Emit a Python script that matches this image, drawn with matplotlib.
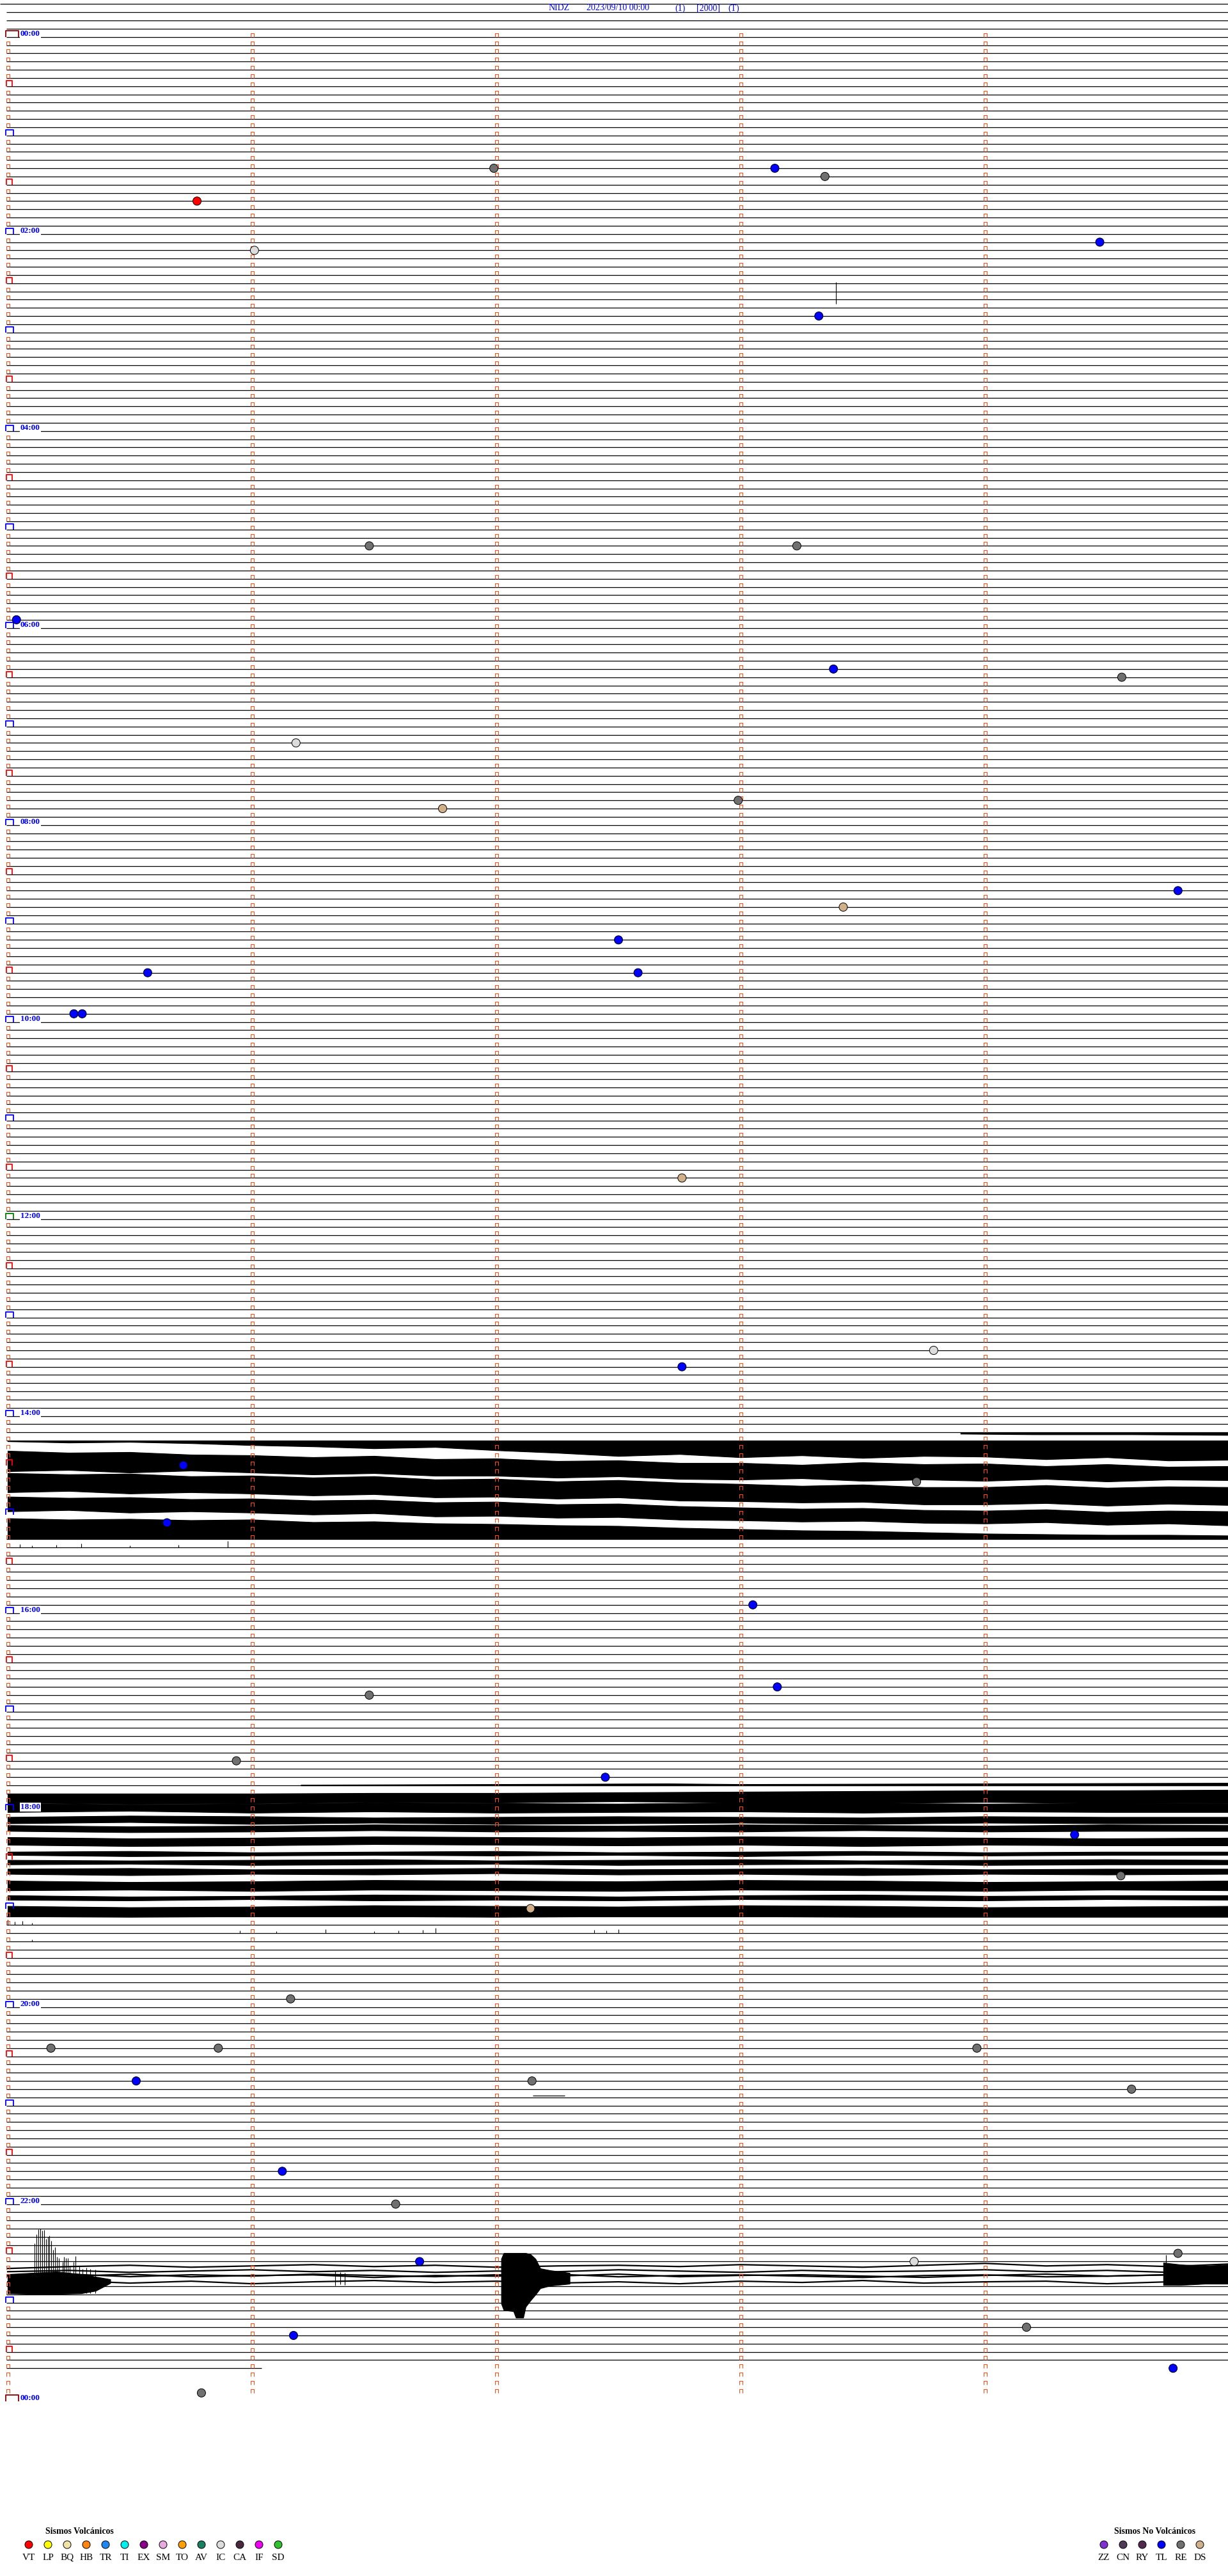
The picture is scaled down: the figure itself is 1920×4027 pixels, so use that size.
import matplotlib
matplotlib.use('Agg')
import matplotlib.pyplot as plt
from matplotlib.collections import LineCollection

# ---- layout of the helicorder page (pixels) ----
W, H, DPI = 1920, 4027, 100
X0, MIN_PX = 12.0, 382.0      # x pixel of minute 0, pixels per minute
Y0, LINE_PX = 57.7, 12.833    # y pixel of the 00:00 trace, pixels per 5-min trace

SERIF = ['Liberation Serif', 'DejaVu Serif']

# ---- data ----
title_parts = ['NIDZ', '2023/09/10 00:00', '(1)', '[2000]', '(T)']
title_x = [858, 917, 1055, 1089, 1138]

hour_labels = ['00:00', '02:00', '04:00', '06:00', '08:00', '10:00', '12:00',
               '14:00', '16:00', '18:00', '20:00', '22:00', '00:00']

first_trace, last_trace, last_trace_end = -4, 284, 1.04
hidden_traces = list(range(172, 183)) + list(range(215, 229)) + [272, 273]

# events: trace number (5 min each), minute inside the trace, type
ev_trace = [20, 16, 16, 17, 26, 25, 34, 62, 62, 71, 77, 78, 86, 94, 93, 106, 104,
            110, 114, 114, 119, 119, 139, 160, 162, 174, 181, 176, 191, 201, 202,
            210, 212, 219, 224, 228, 239, 245, 245, 245, 249, 249, 250, 260, 264,
            270, 271, 271, 279, 280, 284, 287]
ev_minute = [0.775, 1.99, 3.14, 3.345, 1.01, 4.47, 3.32, 1.48, 3.23, 0.036, 3.38,
             4.56, 1.18, 1.78, 2.99, 3.42, 4.79, 2.50, 0.573, 2.58, 0.271, 0.305,
             2.76, 3.79, 2.76, 0.719, 0.652, 3.72, 3.05, 3.15, 1.48, 0.936, 2.446,
             4.367, 4.556, 2.14, 1.158, 0.177, 0.862, 3.967, 0.526, 2.146, 4.60,
             1.124, 1.588, 4.79, 3.71, 1.686, 4.17, 1.17, 4.77, 0.793]
ev_type = ['VT', 'RE', 'TL', 'RE', 'IC', 'TL', 'TL', 'RE', 'RE', 'TL', 'TL', 'RE',
           'IC', 'DS', 'RE', 'DS', 'TL', 'TL', 'TL', 'TL', 'TL', 'TL', 'DS', 'IC',
           'TL', 'TL', 'TL', 'RE', 'TL', 'TL', 'RE', 'RE', 'TL', 'TL', 'RE', 'DS',
           'RE', 'RE', 'RE', 'RE', 'TL', 'RE', 'RE', 'TL', 'RE', 'RE', 'IC', 'TL',
           'RE', 'TL', 'TL', 'RE']

volcanic_types = ['VT', 'LP', 'BQ', 'HB', 'TR', 'TI', 'EX', 'SM', 'TO', 'AV', 'IC', 'CA', 'IF', 'SD']
other_types = ['ZZ', 'CN', 'RY', 'TL', 'RE', 'DS']
type_colors = {'VT': '#ff0000', 'LP': '#ffff00', 'BQ': '#efe3a6', 'HB': '#ff8410',
               'TR': '#1e88f0', 'TI': '#00f0f0', 'EX': '#880088', 'SM': '#e8a8e0',
               'TO': '#ffa000', 'AV': '#188060', 'IC': '#dcdcdc', 'CA': '#4a2840',
               'IF': '#f000f0', 'SD': '#30c030', 'ZZ': '#8030d0', 'CN': '#503858',
               'RY': '#502850', 'TL': '#0000ff', 'RE': '#707070', 'DS': '#d0b088'}

# noisy stretches: (trace, minutes, upper edge, lower edge) in px from the trace line
q_minutes = [0, 0.25, 0.5, 0.75, 1, 1.25, 1.5, 1.75, 2, 2.25, 2.5, 2.75, 3, 3.25,
             3.5, 3.75, 4, 4.25, 4.5, 4.75, 5]
h_minutes = [0, 0.5, 1, 1.5, 2, 2.5, 3, 3.5, 4, 4.5, 5]
noise_1415 = [
    (170, [3.9, 4.2, 4.6, 5.0], [0, 0, 0, 0], [2, 3, 3, 4]),
    (171, q_minutes, [0] * 21,
     [1, 3, 2, 4, 7, 9, 12, 10, 15, 19, 24, 21, 26, 23, 27, 24, 25, 29, 26, 31, 30]),
    (172, q_minutes,
     [3, 6, 5, 9, 10, 13, 11, 16, 15, 19, 18, 22, 22, 25, 21, 24, 23, 27, 24, 28, 27],
     [35, 33, 37, 34, 37, 40, 38, 42, 42, 45, 43, 47, 48, 46, 50, 48, 50, 47, 51, 48, 49]),
    (173, q_minutes,
     [25, 27, 26, 30, 29, 32, 30, 35, 34, 38, 36, 40, 42, 45, 43, 47, 47, 44, 48, 46, 47],
     [55, 53, 57, 55, 57, 60, 58, 63, 62, 65, 63, 68, 69, 71, 70, 74, 74, 72, 76, 73, 75]),
    (174, q_minutes,
     [49, 51, 50, 53, 52, 55, 54, 58, 57, 61, 60, 64, 66, 68, 67, 70, 71, 69, 73, 71, 72],
     [72, 70, 74, 72, 74, 77, 75, 80, 79, 82, 81, 85, 86, 88, 87, 90, 91, 89, 93, 91, 94]),
    (175, q_minutes,
     [70, 72, 71, 73, 72, 76, 75, 78, 79, 81, 82, 85, 87, 89, 90, 92, 94, 95, 96, 96, 97],
     [102] * 21),
]
noise_1720 = [
    (213, [1.2, 2, 2.7, 3, 4, 5], [-1, -2, -3, -2, -3, -4], [0, 0, 0, 0, 0, 0]),
    (214, h_minutes, [0, 0, 0, -1, -1, -2, -3, -4, -5, -5, -6], [14, 16, 15, 13, 14, 12, 14, 15, 13, 15, 14]),
    (215, h_minutes, [2, 4, 3, 1, 2, 3, 1, 2, 3, 2, 2], [16, 14, 17, 15, 17, 16, 15, 17, 15, 16, 16]),
    (217, h_minutes, [-2, -4, -3, -1, -2, -3, -2, -1, -3, -2, -2], [8, 6, 9, 7, 9, 8, 7, 9, 7, 8, 8]),
    (218, h_minutes, [-2, 0, -1, -3, -2, -1, -3, -2, -1, -3, -2], [7, 9, 8, 6, 8, 7, 8, 6, 8, 7, 7]),
    (220, h_minutes, [-9, -7, -8, -10, -9, -8, -10, -9, -8, -7, -8], [3, 5, 4, 2, 3, 4, 3, 5, 3, 4, 4]),
    (221, h_minutes, [1, 0, 2, 1, 0, 2, 1, 0, 2, 1, 1], [6, 8, 7, 6, 7, 6, 8, 6, 7, 6, 6]),
    (222, h_minutes, [1, 2, 1, 0, 2, 1, 0, 2, 1, 0, 1], [8, 7, 9, 8, 7, 9, 8, 7, 9, 8, 8]),
    (223, h_minutes, [2, 1, 3, 2, 1, 3, 2, 1, 3, 2, 2], [10, 12, 10, 11, 9, 11, 10, 12, 10, 11, 10]),
    (225, h_minutes, [-5, -3, -4, -6, -5, -4, -6, -5, -3, -4, -5], [10, 9, 11, 9, 10, 11, 9, 10, 11, 9, 10]),
    (226, h_minutes, [5, 7, 6, 4, 5, 7, 5, 4, 6, 5, 5], [12, 13, 11, 13, 12, 13, 11, 12, 13, 11, 12]),
    (228, h_minutes, [-4, -2, -3, -5, -4, -3, -5, -4, -2, -3, -4], [12, 13, 12, 12, 13, 12, 12, 13, 13, 13, 13]),
]
noise_2210 = [
    (273, [0.0, 0.1, 0.2, 0.3, 0.36, 0.42], [-6, -8, -10, -6, -2, 2], [24, 25, 25, 24, 20, 8]),
    (273, [2.02, 2.03, 2.07, 2.08, 2.11, 2.12, 2.14, 2.16, 2.18, 2.22, 2.3],
     [-30, -39, -39, -39, -39, -39, -37, -30, -15, -12, -8],
     [40, 50, 52, 62, 62, 45, 35, 26, 16, 12, 9]),
    (273, [4.73, 4.8, 4.9, 5.0], [-24, -21, -19, -21], [11, 11, 9, 9]),
]
# long-period wiggles of the 22:10 traces: (trace, offsets every 0.25 min)
waves_2210 = [
    (272, [-2, -5, -7, -4, -6, -8, -5, -7, -4, -6, -7, -5, -8, -6, -4, -7, -10, -6, -8, -5, -9]),
    (272, [3, 1, 4, 2, 0, 3, 1, 4, 2, 3, 0, 2, 4, 1, 3, 2, 0, 3, 1, 4, 2]),
    (272, [8, 10, 7, 11, 9, 8, 12, 9, 10, 7, 11, 9, 8, 10, 12, 9, 8, 11, 10, 8, 9]),
    (273, [-3, -6, -2, -5, -3, -6, -4, -2, -5, -3, -6, -2, -4, -5, -3, -1, -4, -6, -3, -5, -2]),
    (273, [6, 4, 8, 5, 9, 6, 4, 7, 5, 8, 6, 9, 5, 7, 4, 8, 6, 5, 9, 6, 7]),
]
# short offset piece of trace 250: (trace, start, end, px below the line)
offset_pieces = [(250, 2.15, 2.28, 10)]
# burst at 22:10, spike tops in px from trace 273 (bottoms at +24)
burst_minutes = [0.111, 0.119, 0.126, 0.134, 0.141, 0.149, 0.156, 0.164, 0.171, 0.179,
                 0.186, 0.194, 0.201, 0.209, 0.224, 0.231, 0.239, 0.246, 0.254, 0.269,
                 0.277, 0.292, 0.307, 0.322, 0.337, 0.359]
burst_tops = [-54, -68, -76, -77, -74, -75, -61, -64, -66, -58, -44, -48, -33, -31, -25,
              -33, -31, -31, -18, -25, -34, -18, -14, -16, -14, -13]
# single spikes: (trace, minute, top, bottom) px from the trace line
spikes = [
    (32, 3.39, -27, 7),
    (184, 0.05, -5, 0), (184, 0.1, -3, 0), (184, 0.2, -4, 0), (184, 0.3, -6, 0),
    (184, 0.5, -3, 0), (184, 0.7, -4, 0), (184, 0.9, -10, 0),
    (230, 0.0, -8, 0), (230, 0.03, -5, 0), (230, 0.06, -6, 0), (230, 0.1, -3, 0),
    (231, 0.95, -4, 0), (231, 1.1, -3, 0), (231, 1.3, -6, 0), (231, 1.5, -3, 0),
    (231, 1.6, -4, 0), (231, 1.7, -5, 0), (231, 1.75, -8, 0), (231, 2.4, -5, 0),
    (231, 2.45, -4, 0), (231, 2.5, -6, 0), (232, 0.1, -3, 0),
    (273, 1.34, -11, 12), (273, 1.36, -9, 10), (273, 1.38, -8, 11),
    (273, 4.74, -36, 11),
]


def dx(xpix):
    return (xpix - X0) / MIN_PX


def dy(ypix):
    return (ypix - Y0) / LINE_PX


fig = plt.figure(figsize=(W / DPI, H / DPI), dpi=DPI)
ax = fig.add_axes([0, 0, 1, 1])
ax.set_xlim(dx(0), dx(W))
ax.set_ylim(dy(H), dy(0))
ax.axis('off')

# flat trace lines
for t in range(first_trace, last_trace + 1):
    if t in hidden_traces:
        continue
    x_start = dx(0) if t == first_trace else dx(10)
    x_end = last_trace_end if t == last_trace else dx(W)
    ax.hlines(t, x_start, x_end, color='black', lw=0.9, zorder=2)
for t, m0, m1, off in offset_pieces:
    ax.hlines(t + off / LINE_PX, m0, m1, color='black', lw=0.9, zorder=2)

# noise bands
for t, mins, top, bot in noise_1415 + noise_1720 + noise_2210:
    ax.fill_between(mins, [t + v / LINE_PX for v in top], [t + v / LINE_PX for v in bot],
                    facecolor='black', edgecolor='black', lw=0.8, zorder=2)
for t, offs in waves_2210:
    ax.plot(q_minutes, [t + v / LINE_PX for v in offs], color='black', lw=1.6, zorder=2)
ax.vlines(burst_minutes, [273 + v / LINE_PX for v in burst_tops], 273 + 24 / LINE_PX,
          color='black', lw=0.8, zorder=2)
for t, m, top, bot in spikes:
    ax.vlines(m, t + top / LINE_PX, t + bot / LINE_PX, color='black', lw=0.8, zorder=2)


# minute ticks ("⊓" marks above each trace)
def tick(xl, base, wpx, hpx):
    return [(xl, base), (xl, base - hpx / LINE_PX),
            (xl + wpx / MIN_PX, base - hpx / LINE_PX), (xl + wpx / MIN_PX, base)]


small, big_segs, big_cols = [], [], []
for t in range(0, 289):
    if t < 288:
        for m in range(1, 5):
            small.append(tick(m - 2.5 / MIN_PX, t, 5, 6))
    if t in (0, 288):
        big_segs.append(tick(dx(9), t, 20, 10)); big_cols.append('#8b0000')
    elif t == 144:
        big_segs.append(tick(dx(9), t, 12, 9)); big_cols.append('#008000')
    elif t % 12 == 0:
        big_segs.append(tick(dx(9), t, 12, 9)); big_cols.append('#0000ff')
    elif t % 12 == 6:
        big_segs.append(tick(dx(10), t, 9, 9)); big_cols.append('#ff0000')
    else:
        small.append(tick(dx(10), t, 5, 6))
ax.add_collection(LineCollection(small, colors='#ff4a10', lw=0.75, zorder=3))
ax.add_collection(LineCollection(big_segs, colors=big_cols, lw=1.3, zorder=3))

# hour labels every two hours
for k, lab in enumerate(hour_labels):
    ax.text(dx(32), 24 * k - 1.5 / LINE_PX, lab, color='#0000ff', fontsize=9.5,
            fontweight='bold', family=SERIF, ha='left', va='baseline', zorder=5,
            bbox=dict(facecolor='white', edgecolor='none', pad=0.5))

# title
for part, xp in zip(title_parts, title_x):
    ax.text(dx(xp), dy(13), part, color='#0000ff', fontsize=10, family=SERIF,
            ha='left', va='center', zorder=5)

# classified events
ax.scatter(ev_minute, ev_trace, s=88, c=[type_colors[k] for k in ev_type],
           edgecolors='black', linewidths=0.7, zorder=6)

# legends
ax.text(dx(124), dy(3957), 'Sismos Volcánicos', fontsize=10, fontweight='bold',
        family=SERIF, ha='center', va='center')
ax.text(dx(1806), dy(3957), 'Sismos No Volcánicos', fontsize=10, fontweight='bold',
        family=SERIF, ha='center', va='center')
for start, types in ((45, volcanic_types), (1726, other_types)):
    xs = [dx(start + 30 * k) for k in range(len(types))]
    ax.scatter(xs, [dy(3978)] * len(types), s=75, c=[type_colors[k] for k in types],
               edgecolors='black', linewidths=0.7, zorder=6, clip_on=False)
    for xv, k in zip(xs, types):
        ax.text(xv, dy(3998), k, fontsize=11, family=SERIF, ha='center', va='center')

fig.savefig('out.png', dpi=DPI, facecolor='white')
